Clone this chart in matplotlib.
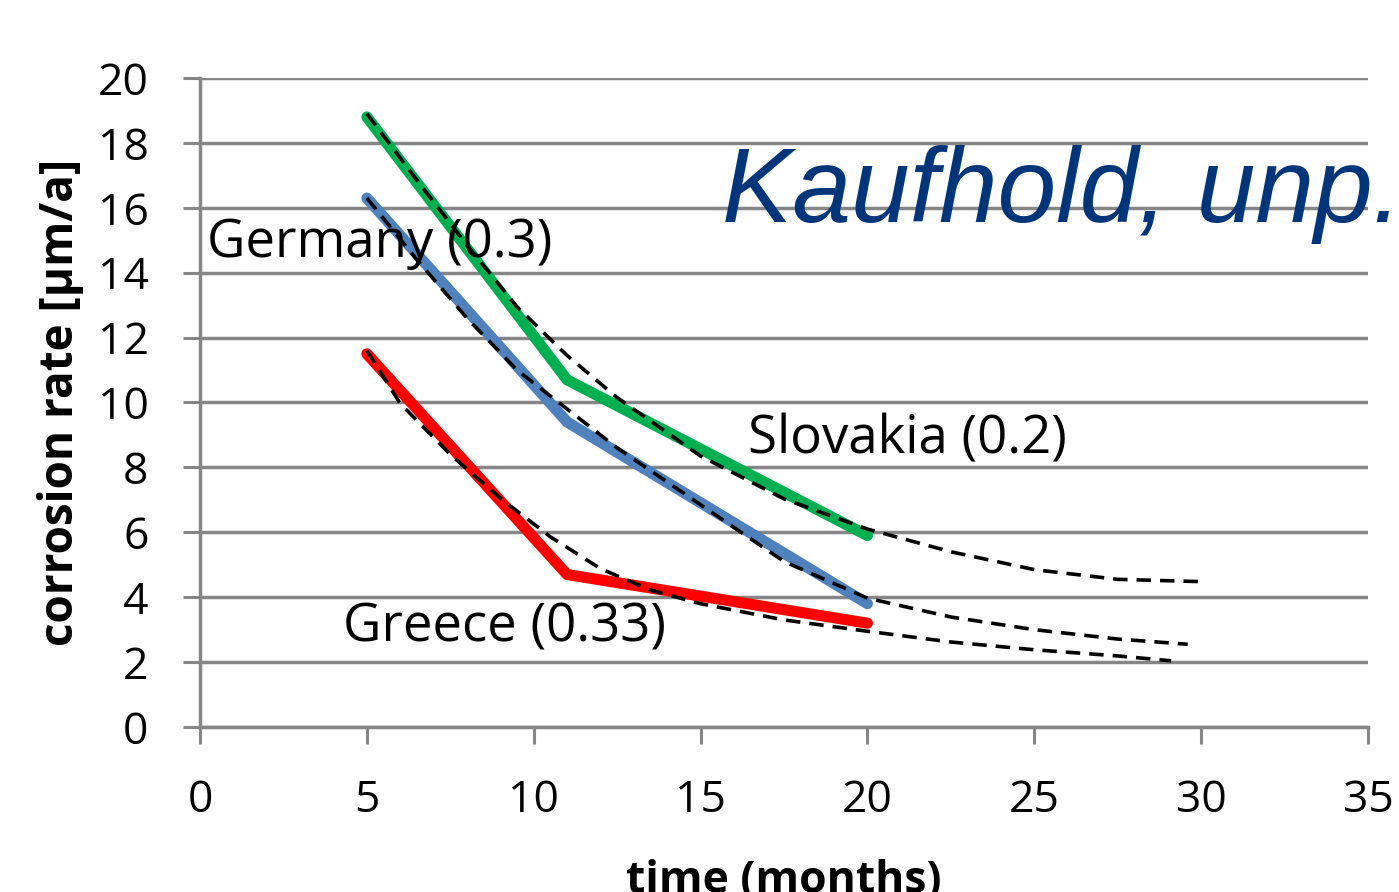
import matplotlib
matplotlib.use("Agg")
import matplotlib.pyplot as plt

# measured corrosion rates (months, um/a)
months = [5, 11, 20]
slovakia = [18.8, 10.7, 5.9]
germany = [16.3, 9.4, 3.8]
greece = [11.5, 4.7, 3.2]

# dashed trend lines
trend_x_sk = [5, 6.5, 8, 9.5, 11, 12.5, 15, 17.5, 20, 22.5, 25, 27.5, 30]
trend_y_sk = [18.9, 16.85, 14.85, 12.95, 11.45, 10.15, 8.35, 7.03, 6.1, 5.4, 4.85, 4.55, 4.48]
trend_x_de = [5, 6.5, 8, 9.5, 11, 12.5, 15, 17.5, 20, 22.5, 25, 27.5, 29.6]
trend_y_de = [16.3, 14.4, 12.6, 11.0, 9.8, 8.6, 6.85, 5.1, 3.97, 3.39, 3.0, 2.71, 2.55]
trend_x_gr = [5, 6, 7.5, 9, 10.5, 12, 13.5, 15, 17.5, 20, 22.5, 25, 27.5, 29.1]
trend_y_gr = [11.6, 9.97, 8.4, 7.05, 5.86, 4.88, 4.22, 3.8, 3.3, 2.95, 2.62, 2.38, 2.19, 2.04]

x_ticks = [0, 5, 10, 15, 20, 25, 30, 35]
y_ticks = [0, 2, 4, 6, 8, 10, 12, 14, 16, 18, 20]

grey = "#868686"
font = "Open Sans"

fig = plt.figure(figsize=(13.99, 8.92), dpi=100)
ax = fig.add_axes([200 / 1399, 165 / 892, 1168 / 1399, 649 / 892])

lw = 8
ax.plot(months, slovakia, color="#00B050", lw=lw, solid_capstyle="round", solid_joinstyle="round", zorder=3)
ax.plot(months, germany, color="#4F81BD", lw=lw, solid_capstyle="round", solid_joinstyle="round", zorder=3)
ax.plot(months, greece, color="#FF0000", lw=lw, solid_capstyle="round", solid_joinstyle="round", zorder=3)

dash = (0, (4, 2.5))
for tx, ty in [(trend_x_sk, trend_y_sk), (trend_x_de, trend_y_de), (trend_x_gr, trend_y_gr)]:
    ax.plot(tx, ty, color="black", lw=2.6, linestyle=dash, zorder=4)

ax.set_xlim(0, 35)
ax.set_ylim(0, 20)
ax.set_xticks(x_ticks)
ax.set_yticks(y_ticks)
ax.yaxis.grid(True, color=grey, lw=2.5)
ax.set_axisbelow(True)

for s in ["top", "right"]:
    ax.spines[s].set_visible(False)
for s in ["left", "bottom"]:
    ax.spines[s].set_color(grey)
    ax.spines[s].set_linewidth(2.5)

ax.tick_params(axis="both", direction="out", length=12, width=2.2, color=grey, labelsize=32)
ax.tick_params(axis="y", pad=25)
ax.tick_params(axis="x", pad=25)
for lab in ax.get_xticklabels() + ax.get_yticklabels():
    lab.set_fontfamily(font)

ax.set_xlabel("time (months)", fontsize=32, fontweight="bold", family=font, labelpad=26)
ax.set_ylabel("corrosion rate [µm/a]", fontsize=33, fontweight="bold", family=font, labelpad=10)

ax.text(0.21, 14.9, "Germany (0.3)", fontsize=38, family=font, ha="left", va="center", zorder=5)
ax.text(16.42, 8.85, "Slovakia (0.2)", fontsize=38, family=font, ha="left", va="center", zorder=5)
ax.text(4.29, 3.05, "Greece (0.33)", fontsize=38, family=font, ha="left", va="center", zorder=5)
ax.text(15.64, 15.56, "Kaufhold, unp.", fontsize=76, family="Liberation Sans", style="italic",
        color="#00357A", ha="left", va="baseline", zorder=5)

fig.savefig("out.png", dpi=100)
